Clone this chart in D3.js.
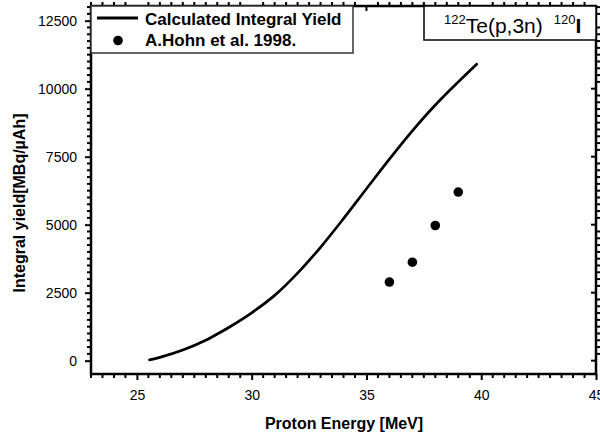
<!DOCTYPE html>
<html>
<head>
<meta charset="utf-8">
<script src="https://cdn.jsdelivr.net/npm/d3@7/dist/d3.min.js"></script>
<style>
  html, body { margin: 0; padding: 0; background: #fff; }
  svg { display: block; font-family: "Liberation Sans", Arial, sans-serif; }
</style>
</head>
<body>
<svg id="chart" width="600" height="433"></svg>
<script>
// Calculated thick-target integral yield of 122Te(p,3n)120I
const calcEnergy = [25.55, 26.0, 27.0, 28.0, 28.5, 29.0, 30.0, 31.0, 32.0, 33.0, 34.0, 35.0, 36.0, 37.0, 38.0, 39.0, 39.8];
const calcYield  = [30, 120, 390, 750, 980, 1220, 1760, 2400, 3220, 4170, 5220, 6320, 7410, 8450, 9400, 10250, 10900];

// Experimental values (A.Hohn et al. 1998)
const expEnergy = [36, 37, 38, 39];
const expYield  = [2890, 3620, 4970, 6200];

const xTicks = [25, 30, 35, 40, 45];
const yTicks = [0, 2500, 5000, 7500, 10000, 12500];

const legendLabels = ["Calculated Integral Yield", "A.Hohn et al. 1998."];

const svg = d3.select("#chart");

const x = d3.scaleLinear().domain([23, 45]).range([91, 596]);
const y = d3.scaleLinear().domain([-490, 13040]).range([374, 6]);

const xMinor = d3.range(46).map(i => 23 + i * 0.5).filter(v => !xTicks.includes(v));
const yMinor = d3.range(53).map(i => i * 250).filter(v => !yTicks.includes(v));

const [x0, x1] = x.range();
const [y0, y1] = y.range();

// minor ticks: short serrations outside the frame on all four sides
const minor = svg.append("g").attr("stroke", "#000").attr("stroke-width", 2);
minor.selectAll("line.mb").data(xMinor).join("line").attr("class", "mb")
  .attr("x1", d => x(d)).attr("x2", d => x(d)).attr("y1", y0).attr("y2", y0 + 4);
minor.selectAll("line.mt").data(xMinor).join("line").attr("class", "mt")
  .attr("x1", d => x(d)).attr("x2", d => x(d)).attr("y1", y1).attr("y2", y1 - 4);
minor.selectAll("line.ml").data(yMinor).join("line").attr("class", "ml")
  .attr("y1", d => y(d)).attr("y2", d => y(d)).attr("x1", x0).attr("x2", x0 - 4);
minor.selectAll("line.mr").data(yMinor).join("line").attr("class", "mr")
  .attr("y1", d => y(d)).attr("y2", d => y(d)).attr("x1", x1).attr("x2", x1 + 4);

const tickFont = g => g.selectAll("text")
  .attr("font-family", "'Liberation Sans', Arial, sans-serif")
  .attr("font-size", 14)
  .attr("fill", "#000");
const tickLines = (g, w) => {
  g.select(".domain").remove();
  g.selectAll("line").attr("stroke", "#000").attr("stroke-width", w);
};

// bottom axis
svg.append("g").attr("transform", `translate(0,${y0})`)
  .call(d3.axisBottom(x).tickValues(xTicks).tickSize(6).tickPadding(10).tickFormat(d3.format("d")))
  .call(g => tickLines(g, 2))
  .call(tickFont);

// left axis
svg.append("g").attr("transform", `translate(${x0},0)`)
  .call(d3.axisLeft(y).tickValues(yTicks).tickSize(6).tickPadding(8).tickFormat(d3.format("d")))
  .call(g => tickLines(g, 2))
  .call(tickFont);

// mirrored major ticks on top and right, pointing inward
const major = svg.append("g").attr("stroke", "#000").attr("stroke-width", 2);
major.selectAll("line.Mt").data(xTicks).join("line").attr("class", "Mt")
  .attr("x1", d => x(d)).attr("x2", d => x(d)).attr("y1", y1).attr("y2", y1 + 5);
major.selectAll("line.Mr").data(yTicks).join("line").attr("class", "Mr")
  .attr("y1", d => y(d)).attr("y2", d => y(d)).attr("x1", x1).attr("x2", x1 - 5);

// plot frame
svg.append("rect")
  .attr("x", x0).attr("y", y1)
  .attr("width", x1 - x0)
  .attr("height", y0 - y1)
  .attr("fill", "none").attr("stroke", "#000").attr("stroke-width", 2.5);

// calculated curve
const calc = calcEnergy.map((e, i) => [e, calcYield[i]]);
svg.append("path")
  .datum(calc)
  .attr("fill", "none")
  .attr("stroke", "#000")
  .attr("stroke-width", 2.7)
  .attr("stroke-linecap", "round")
  .attr("d", d3.line().x(d => x(d[0])).y(d => y(d[1])).curve(d3.curveCatmullRom.alpha(0.5)));

// experimental points
svg.append("g").selectAll("circle")
  .data(expEnergy.map((e, i) => [e, expYield[i]]))
  .join("circle")
  .attr("cx", d => x(d[0]))
  .attr("cy", d => y(d[1]))
  .attr("r", 4.8)
  .attr("fill", "#000");

// legend
const lg = svg.append("g");
lg.append("rect")
  .attr("x", 91).attr("y", 6).attr("width", 262).attr("height", 47)
  .attr("fill", "#fff").attr("stroke", "#333").attr("stroke-width", 1.5);
lg.append("line")
  .attr("x1", 97).attr("x2", 138).attr("y1", 18).attr("y2", 18)
  .attr("stroke", "#000").attr("stroke-width", 3);
lg.append("circle").attr("cx", 118).attr("cy", 40.5).attr("r", 4.8).attr("fill", "#000");
lg.selectAll("text.lab")
  .data(legendLabels)
  .join("text")
  .attr("class", "lab")
  .attr("x", 145)
  .attr("y", (d, i) => 25 + i * 21)
  .attr("font-size", 17)
  .attr("font-weight", "bold")
  .attr("fill", "#000")
  .text(d => d);

// reaction label
const tg = svg.append("g");
tg.append("rect")
  .attr("x", 424).attr("y", 6).attr("width", 172).attr("height", 34)
  .attr("fill", "#fff").attr("stroke", "#000").attr("stroke-width", 1.5);
const title = tg.append("text").attr("x", 444).attr("y", 33).attr("fill", "#000");
title.append("tspan").attr("font-size", 13).attr("dy", -9).text("122");
title.append("tspan").attr("font-size", 21).attr("dy", 9).text("Te(p,3n)");
title.append("tspan").attr("font-size", 13).attr("dy", -9).attr("dx", 11).text("120");
title.append("tspan").attr("font-size", 21).attr("dy", 9).attr("font-weight", "bold").text("I");

// axis titles
svg.append("text")
  .attr("x", 344).attr("y", 429)
  .attr("text-anchor", "middle")
  .attr("font-size", 16).attr("font-weight", "bold")
  .text("Proton Energy [MeV]");
svg.append("text")
  .attr("transform", "translate(25,203) rotate(-90)")
  .attr("text-anchor", "middle")
  .attr("font-size", 16).attr("font-weight", "bold")
  .text("Integral yield[MBq/µAh]");
</script>
</body>
</html>
